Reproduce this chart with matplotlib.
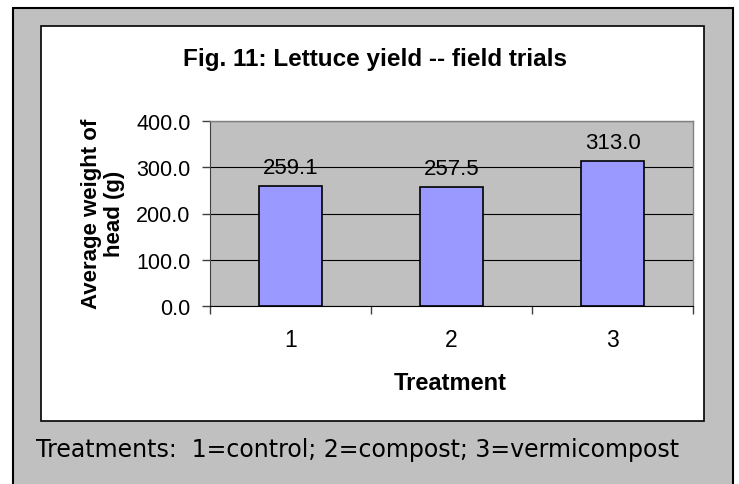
import matplotlib
matplotlib.use("Agg")
import matplotlib.pyplot as plt
from matplotlib.patches import Rectangle

# data
treatments = [1, 2, 3]
tick_labels = ["1", "2", "3"]
avg_weight = [259.1, 257.5, 313.0]
y_ticks = [0, 100, 200, 300, 400]

W, H = 739, 485


def fx(px):
    return px / W


def fy(py):
    return (H - py) / H


fig = plt.figure(figsize=(W / 100, H / 100), dpi=100)
fig.patch.set_facecolor("white")

# outer gray frame and inner white chart area
fig.patches.append(Rectangle((fx(13), fy(490)), fx(733) - fx(13), fy(9) - fy(490),
                             transform=fig.transFigure, facecolor="#c0c0c0",
                             edgecolor="black", linewidth=1.5, zorder=0))
fig.patches.append(Rectangle((fx(41), fy(422)), fx(704) - fx(41), fy(27) - fy(422),
                             transform=fig.transFigure, facecolor="white",
                             edgecolor="black", linewidth=1.2, zorder=1))

ax = fig.add_axes([fx(210), fy(307), fx(693) - fx(210), fy(122) - fy(307)])
ax.set_facecolor("#c0c0c0")
ax.set_zorder(2)

bars = ax.bar(treatments, avg_weight, width=0.39, color="#9999ff",
              edgecolor="black", linewidth=1.2, zorder=3)
ax.bar_label(bars, fmt="%.1f", padding=6, fontsize=16,
             family="Liberation Sans", zorder=4)

ax.set_xlim(0.5, 3.5)
ax.set_ylim(0, 400)
ax.set_yticks(y_ticks)
ax.set_yticklabels([f"{v:.1f}" for v in y_ticks], family="Liberation Sans", fontsize=15.5)
ax.set_xticks(treatments)
ax.set_xticklabels(tick_labels, family="Liberation Sans", fontsize=16.5)
ax.set_xticks([0.5, 1.5, 2.5, 3.5], minor=True)
ax.tick_params(axis="x", which="major", length=0, pad=16)
ax.tick_params(axis="x", which="minor", length=6, width=1, color="#404040", direction="out")
ax.tick_params(axis="y", length=6, width=1, color="#404040", pad=8)

ax.yaxis.grid(True, color="black", linewidth=0.8, zorder=1)
ax.set_axisbelow(True)
for side in ["top", "right"]:
    ax.spines[side].set_color("#808080")
    ax.spines[side].set_linewidth(1)
ax.spines["left"].set_color("#404040")
ax.spines["bottom"].set_color("black")

fig.text(fx(375), fy(66), "Fig. 11: Lettuce yield -- field trials", ha="center",
         va="baseline", fontsize=17.5, fontweight="bold", family="Liberation Sans", zorder=5)
fig.text(fx(450), fy(390), "Treatment", ha="center", va="baseline",
         fontsize=17, fontweight="bold", family="Liberation Sans", zorder=5)
fig.text(fx(103), fy(214), "Average weight of\nhead (g)", ha="center", va="center",
         rotation=90, multialignment="center", linespacing=1.15,
         fontsize=16, fontweight="bold", family="Liberation Sans", zorder=5)

note = fig.text(fx(36), fy(457), "Treatments:  1=control; 2=compost; 3=vermicompost",
                ha="left", va="baseline", fontsize=20, family="DejaVu Sans", zorder=5)
# squeeze the note to the reference width
r = fig.canvas.get_renderer()
w = note.get_window_extent(r).width
note.set_fontsize(20 * 642 / w)

fig.savefig("out.png", dpi=100)
